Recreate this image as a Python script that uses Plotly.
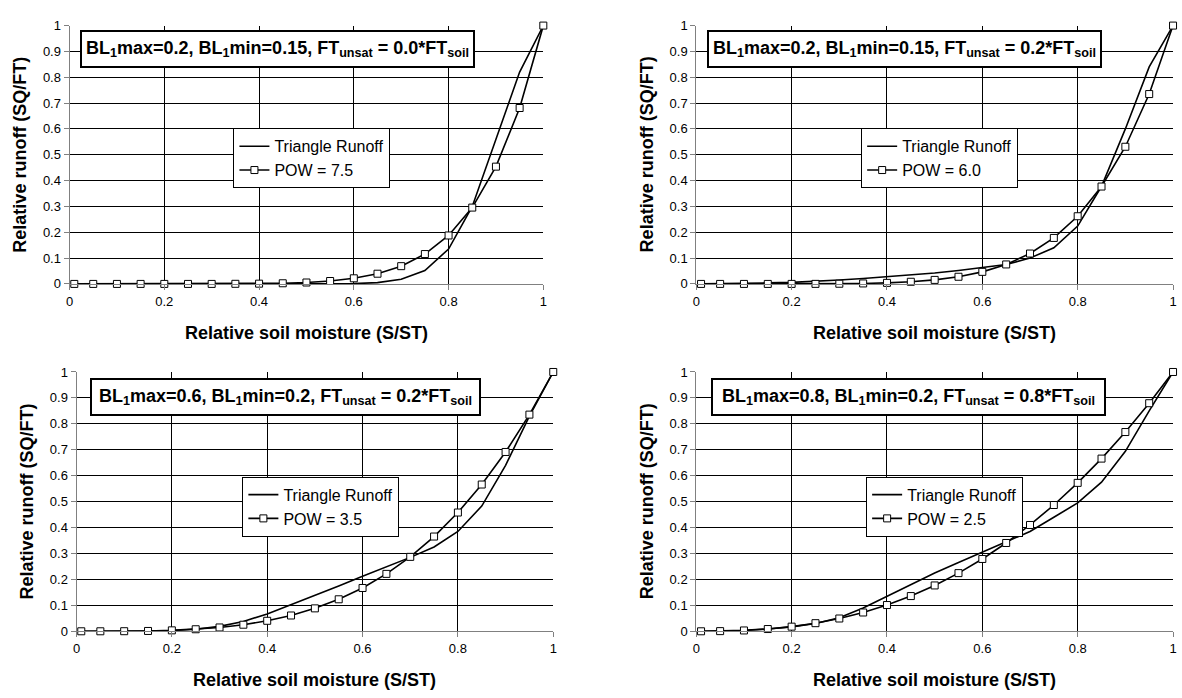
import plotly.graph_objects as go

W, H = 1182, 698

x_vals = [0.01, 0.05, 0.1, 0.15, 0.2, 0.25, 0.3, 0.35, 0.4, 0.45, 0.5,
          0.55, 0.6, 0.65, 0.7, 0.75, 0.8, 0.85, 0.9, 0.95, 1.0]

tri1 = [0, 0, 0, 0, 0, 0, 0, 0, 0, 0, 0, 0, 0.001, 0.005, 0.018, 0.052,
        0.135, 0.30, 0.56, 0.82, 1.0]
pow1 = [0, 0, 0, 0, 0, 0, 0, 0.0004, 0.001, 0.0025, 0.0055, 0.0113, 0.0217,
        0.0395, 0.0687, 0.1156, 0.1875, 0.2955, 0.454, 0.681, 1.0]

tri2 = [0, 0.0005, 0.002, 0.004, 0.006, 0.01, 0.015, 0.021, 0.028, 0.035,
        0.042, 0.052, 0.063, 0.075, 0.1, 0.14, 0.224, 0.378, 0.6, 0.84, 1.0]
pow2 = [0, 0, 0, 0, 0.0001, 0.0002, 0.0007, 0.0018, 0.0041, 0.0083, 0.0156,
        0.0277, 0.0467, 0.0754, 0.1176, 0.178, 0.262, 0.377, 0.531, 0.735, 1.0]

tri3 = [0, 0, 0, 0.001, 0.003, 0.008, 0.019, 0.038, 0.067, 0.102, 0.14,
        0.175, 0.212, 0.248, 0.285, 0.325, 0.385, 0.483, 0.64, 0.83, 1.0]
pow3 = [0, 0, 0.0003, 0.0013, 0.0036, 0.0078, 0.0148, 0.0254, 0.0405, 0.0609,
        0.0884, 0.1234, 0.167, 0.2214, 0.287, 0.3654, 0.458, 0.566, 0.6915,
        0.8356, 1.0]

tri4 = [0, 0.001, 0.004, 0.009, 0.017, 0.03, 0.052, 0.09, 0.135, 0.18, 0.225,
        0.265, 0.305, 0.345, 0.385, 0.44, 0.495, 0.575, 0.694, 0.85, 1.0]
pow4 = [0, 0.0006, 0.0032, 0.0087, 0.0179, 0.0313, 0.0493, 0.0725, 0.1012,
        0.1358, 0.1768, 0.2243, 0.2789, 0.3406, 0.41, 0.487, 0.5724, 0.666,
        0.7684, 0.8796, 1.0]

pow_labels = ["POW = 7.5", "POW = 6.0", "POW = 3.5", "POW = 2.5"]
tri_label = "Triangle Runoff"
box_texts = [
    "BL<sub>1</sub>max=0.2, BL<sub>1</sub>min=0.15, FT<sub>unsat</sub> = 0.0*FT<sub>soil</sub>",
    "BL<sub>1</sub>max=0.2, BL<sub>1</sub>min=0.15, FT<sub>unsat</sub> = 0.2*FT<sub>soil</sub>",
    "BL<sub>1</sub>max=0.6, BL<sub>1</sub>min=0.2, FT<sub>unsat</sub> = 0.2*FT<sub>soil</sub>",
    "BL<sub>1</sub>max=0.8, BL<sub>1</sub>min=0.2, FT<sub>unsat</sub> = 0.8*FT<sub>soil</sub>",
]
x_title = "Relative soil moisture (S/ST)"
y_title = "Relative runoff (SQ/FT)"
x_ticks = [0, 0.2, 0.4, 0.6, 0.8, 1]
x_ticktext = ["0", "0.2", "0.4", "0.6", "0.8", "1"]
y_ticks = [0, 0.1, 0.2, 0.3, 0.4, 0.5, 0.6, 0.7, 0.8, 0.9, 1]
y_ticktext = ["0", "0.1", "0.2", "0.3", "0.4", "0.5", "0.6", "0.7", "0.8", "0.9", "1"]

tris = [tri1, tri2, tri3, tri4]
pows = [pow1, pow2, pow3, pow4]

# panel pixel geometry: (left, right, top, bottom)
panels = [(66, 543, 19, 283), (697, 1177, 19, 283),
          (73, 553, 373, 638), (697, 1177, 373, 638)]
box_pos = [(77, 24), (708, 24), (87, 379), (712, 379)]
box_w = [387, 387, 383, 387]
leg_pos = [(231, 124), (863, 124), (240, 480), (868, 480)]

FONT = "Arial, Liberation Sans, sans-serif"

def px(v):
    return v / W

def py(v):
    return 1 - v / H

fig = go.Figure()
layout = dict(
    width=W, height=H, margin=dict(l=0, r=0, t=0, b=0),
    paper_bgcolor="white", plot_bgcolor="white",
    font=dict(family=FONT, color="black", size=13),
    annotations=[],
)

for i in range(4):
    n = "" if i == 0 else str(i + 1)
    leg = "legend" if i == 0 else f"legend{i + 1}"
    L, R, T, B = panels[i]
    fig.add_trace(go.Scatter(
        x=x_vals, y=tris[i], mode="lines", name=tri_label,
        line=dict(color="black", width=1.6),
        xaxis="x" + n, yaxis="y" + n, legend=leg, cliponaxis=False,
    ))
    fig.add_trace(go.Scatter(
        x=x_vals, y=pows[i], mode="lines+markers", name=pow_labels[i],
        line=dict(color="black", width=1.6),
        marker=dict(symbol="square", size=7, color="white",
                    line=dict(color="black", width=1)),
        xaxis="x" + n, yaxis="y" + n, legend=leg, cliponaxis=False,
    ))
    layout["xaxis" + n] = dict(
        domain=[px(L), px(R)], anchor="y" + n, range=[0, 1],
        tickvals=x_ticks, ticktext=x_ticktext,
        showgrid=True, gridcolor="black", gridwidth=1,
        showline=True, linecolor="#808080", linewidth=1,
        ticks="outside", ticklen=5, tickcolor="#808080",
        zeroline=False, tickfont=dict(size=13, family=FONT),
        fixedrange=True,
    )
    layout["yaxis" + n] = dict(
        domain=[py(B), py(T)], anchor="x" + n, range=[0, 1],
        tickvals=y_ticks, ticktext=y_ticktext,
        showgrid=True, gridcolor="black", gridwidth=1,
        showline=True, linecolor="#808080", linewidth=1,
        ticks="outside", ticklen=5, tickcolor="#808080",
        zeroline=False, tickfont=dict(size=13, family=FONT),
        fixedrange=True,
    )
    layout[leg] = dict(
        x=px(leg_pos[i][0]), y=py(leg_pos[i][1]),
        xanchor="left", yanchor="top",
        bgcolor="white", bordercolor="black", borderwidth=1,
        font=dict(size=16, family=FONT),
        tracegroupgap=0, itemwidth=30,
    )
    bx, by = box_pos[i]
    layout["annotations"].append(dict(
        text="<b>" + box_texts[i] + "</b>", xref="paper", yref="paper",
        x=px(bx), y=py(by), xanchor="left", yanchor="top",
        width=box_w[i], height=30, align="center", valign="middle",
        showarrow=False, bgcolor="white", bordercolor="black",
        borderwidth=2, borderpad=2,
        font=dict(size=18, family=FONT, color="black"),
    ))
    # axis titles
    layout["annotations"].append(dict(
        text="<b>" + x_title + "</b>", xref="paper", yref="paper",
        x=px((L + R) / 2), y=py(B + 50), xanchor="center", yanchor="middle",
        showarrow=False, font=dict(size=18, family=FONT, color="black"),
    ))
    layout["annotations"].append(dict(
        text="<b>" + y_title + "</b>", xref="paper", yref="paper",
        x=px(L - 50), y=py((T + B) / 2), xanchor="center", yanchor="middle",
        textangle=-90, showarrow=False,
        font=dict(size=18, family=FONT, color="black"),
    ))

fig.update_layout(**layout)
fig.write_html("out.html", config={"displayModeBar": False},
               post_script="document.body.style.margin='0';document.body.style.overflow='hidden';")
